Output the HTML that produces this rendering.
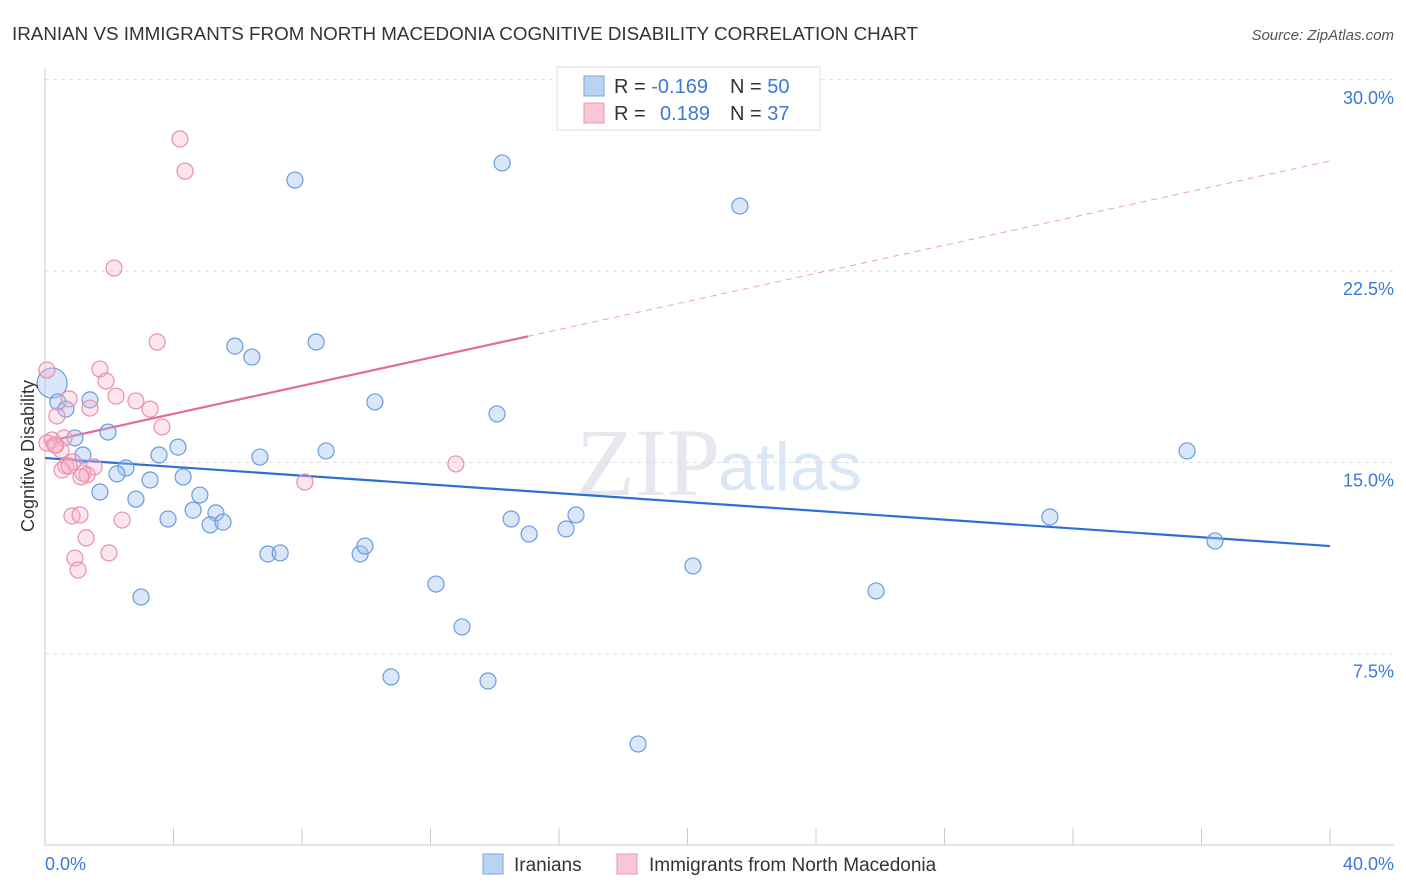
<!DOCTYPE html>
<html><head><meta charset="utf-8"><style>
body{margin:0;background:#fff;font-family:"Liberation Sans",sans-serif;}
svg{display:block}
</style></head><body>
<svg width="1406" height="892" id="chart">
<text x="12" y="40" font-size="18" fill="#333" textLength="906" lengthAdjust="spacingAndGlyphs">IRANIAN VS IMMIGRANTS FROM NORTH MACEDONIA COGNITIVE DISABILITY CORRELATION CHART</text>
<text x="1394" y="40" font-size="15" fill="#555" font-style="italic" text-anchor="end">Source: ZipAtlas.com</text>
<text x="720" y="495" font-size="96" fill="#ccd" opacity="0.45" font-family="Liberation Serif" text-anchor="end">ZIP</text>
<text x="718" y="490" font-size="68" fill="#b8d0ee" opacity="0.5">atlas</text>
<g id="grid"></g><g id="axes"></g><g id="lines"></g><g id="pts"></g>
<text transform="translate(34,456) rotate(-90)" font-size="18" fill="#333" text-anchor="middle">Cognitive Disability</text>
<text x="45" y="870" font-size="18" fill="#3b78d8">0.0%</text>
<text x="1394" y="870" font-size="18" fill="#3b78d8" text-anchor="end">40.0%</text>
<g>
<rect x="557" y="67" width="263" height="63" fill="#fff" stroke="#ddd"/>
<rect x="584" y="76" width="20" height="20" fill="#b9d3f3" stroke="#7aa6e0"/>
<rect x="584" y="103" width="20" height="20" fill="#f8c6d5" stroke="#e99ab3"/>
<text x="614" y="93" font-size="20" fill="#333">R = <tspan fill="#3b78d8">-0.169</tspan><tspan x="730">N = </tspan><tspan fill="#3b78d8">50</tspan></text>
<text x="614" y="120" font-size="20" fill="#333">R = <tspan x="660" fill="#3b78d8">0.189</tspan><tspan x="730">N = </tspan><tspan fill="#3b78d8"> 37</tspan></text>
</g>
<g>
<rect x="483" y="854" width="20" height="20" fill="#b9d3f3" stroke="#7aa6e0"/>
<text x="514" y="871" font-size="19" fill="#333">Iranians</text>
<rect x="617" y="854" width="20" height="20" fill="#f8c6d5" stroke="#e99ab3"/>
<text x="649" y="871" font-size="19" fill="#333">Immigrants from North Macedonia</text>
</g>
</svg>
<script>
const yTicks=[7.5,15,22.5,30];
const yTickLabels=["7.5%","15.0%","22.5%","30.0%"];
const blueX=[7.78,14.23,21.63,0.22,0.40,0.65,1.40,0.93,1.96,1.18,2.52,2.24,3.27,3.55,4.14,4.30,1.71,2.83,4.82,3.83,4.61,5.32,5.14,5.54,5.91,6.44,8.44,6.69,8.75,10.27,14.07,6.94,7.32,9.81,9.96,12.17,12.98,10.77,13.79,14.51,15.07,16.53,16.22,20.17,18.46,2.99,25.87,31.28,35.55,36.42];
const blueY=[26.07,26.74,25.05,18.11,17.37,17.09,17.45,15.96,16.19,15.29,14.78,14.55,14.31,15.29,15.60,14.43,13.84,13.56,13.72,12.78,13.13,13.02,12.55,12.66,19.56,19.13,19.72,15.21,15.45,17.37,16.90,11.41,11.45,11.41,11.72,10.23,8.55,6.59,6.43,12.78,12.19,12.94,12.39,10.94,3.96,9.72,9.96,12.86,15.45,11.92];
const pinkX=[4.20,4.36,2.15,3.49,0.06,1.71,1.90,2.21,2.83,3.27,0.75,1.40,0.37,3.64,0.22,0.34,0.59,0.06,0.50,0.87,0.65,0.53,1.53,1.18,1.31,1.12,8.09,12.79,0.84,1.09,2.40,1.28,0.93,1.99,1.03,0.31,0.75];
const pinkY=[27.68,26.42,22.62,19.72,18.62,18.66,18.19,17.60,17.41,17.09,17.49,17.13,16.82,16.39,15.88,15.68,15.96,15.76,15.49,15.02,14.86,14.70,14.82,14.58,14.51,14.43,14.23,14.94,12.90,12.94,12.74,12.04,11.25,11.45,10.78,15.68,14.86];
const blueTrend=[15.17,11.72];
const pinkTrend=[15.80,26.82];
const pinkSolidEnd=15.03;
const NS='http://www.w3.org/2000/svg';
const X=v=>45+v/40*1285, Y=v=>845-v/7.5*191.3;
function mk(t,a,p){const e=document.createElementNS(NS,t);for(const k in a)e.setAttribute(k,a[k]);document.getElementById(p).appendChild(e);return e;}
yTicks.forEach((t,i)=>{
 const l=mk('line',{x1:45,x2:1394,y1:Y(t),y2:Y(t),stroke:'#ddd','stroke-dasharray':'4,4'},'grid');
 
 
 const tx=mk('text',{x:1394,y:Y(t)+24,'font-size':18,fill:'#3b78d8','text-anchor':'end'},'grid');
 tx.textContent=yTickLabels[i];
 
 
});
let a=mk('line',{x1:45,x2:45,y1:68,y2:845,stroke:'#ccc'},'axes');


a=mk('line',{x1:45,x2:1394,y1:845,y2:845,stroke:'#ccc'},'axes');


for(let i=0;i<=10;i++){const t=mk('line',{x1:X(i*4),x2:X(i*4),y1:828,y2:845,stroke:'#ccc'},'axes');
 
 }
let l=mk('line',{x1:X(0),y1:Y(blueTrend[0]),x2:X(40),y2:Y(blueTrend[1]),stroke:'#2e6fd6','stroke-width':2.2},'lines');


const py=x=>pinkTrend[0]+(pinkTrend[1]-pinkTrend[0])*x/40;
l=mk('line',{x1:X(0),y1:Y(py(0)),x2:X(pinkSolidEnd),y2:Y(py(pinkSolidEnd)),stroke:'#e56a94','stroke-width':2.2},'lines');


l=mk('line',{x1:X(pinkSolidEnd),y1:Y(py(pinkSolidEnd)),x2:X(40),y2:Y(py(40)),stroke:'#e9a3bb','stroke-width':1,'stroke-dasharray':'6,5'},'lines');


blueX.forEach((x,i)=>{const c=mk('circle',{cx:X(x),cy:Y(blueY[i]),r:i==3?15:8,fill:'rgba(160,195,240,0.4)',stroke:'#6a9be0','stroke-width':1.2},'pts');
 
 });
pinkX.forEach((x,i)=>{const c=mk('circle',{cx:X(x),cy:Y(pinkY[i]),r:8,fill:'rgba(246,180,200,0.35)',stroke:'#e88fae','stroke-width':1.2},'pts');
 
 });
</script>
</body></html>
